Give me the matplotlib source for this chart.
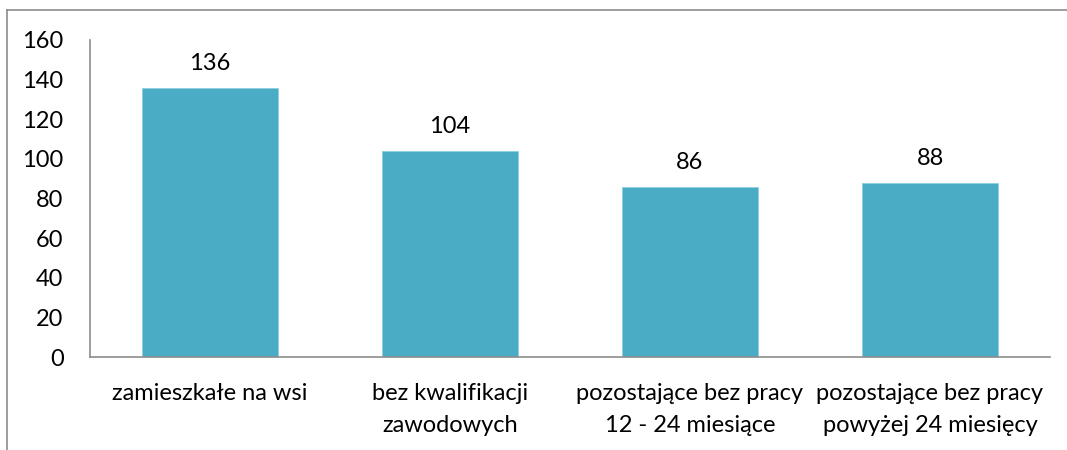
import matplotlib
matplotlib.use("Agg")
import matplotlib.pyplot as plt
from matplotlib.lines import Line2D

categories = ["zamieszkałe na wsi", "bez kwalifikacji\nzawodowych",
              "pozostające bez pracy\n12 - 24 miesiące", "pozostające bez pracy\npowyżej 24 miesięcy"]
values = [136, 104, 86, 88]
yticks = [0, 20, 40, 60, 80, 100, 120, 140, 160]

plt.rcParams['font.family'] = ['Lato', 'DejaVu Sans']
FS = 17

fig = plt.figure(figsize=(10.67, 4.5), dpi=100)
ax = fig.add_axes([90/1067, 93/450, 960/1067, 317/450])

x = list(range(len(categories)))
bars = ax.bar(x, values, width=0.57, color="#4BACC6", edgecolor="#8CCFDF", linewidth=0.6)
ax.set_xlim(-0.5, len(categories) - 0.5)
ax.set_ylim(0, 160)
ax.set_yticks(yticks)
ax.set_yticklabels([str(t) for t in yticks], fontsize=FS)
ax.set_xticks(x)
ax.set_xticklabels(categories, fontsize=FS, linespacing=1.65, va='top')
ax.tick_params(axis='y', length=0, pad=19)
ax.tick_params(axis='x', length=0, pad=19)
for s in ['top', 'right']:
    ax.spines[s].set_visible(False)
for s in ['left', 'bottom']:
    ax.spines[s].set_color('#8c8c8c')
    ax.spines[s].set_linewidth(1.2)

for b, v in zip(bars, values):
    ax.annotate(str(v), (b.get_x() + b.get_width() / 2, v), xytext=(0, 10),
                textcoords='offset points', ha='center', va='bottom', fontsize=FS)

# outer frame
fig.add_artist(Line2D([7/1067, 1.0], [1 - 10/450, 1 - 10/450], color='#8c8c8c', lw=1.2, transform=fig.transFigure))
fig.add_artist(Line2D([7/1067, 7/1067], [0, 1 - 10/450], color='#8c8c8c', lw=1.2, transform=fig.transFigure))

fig.savefig("out.png", dpi=100)
